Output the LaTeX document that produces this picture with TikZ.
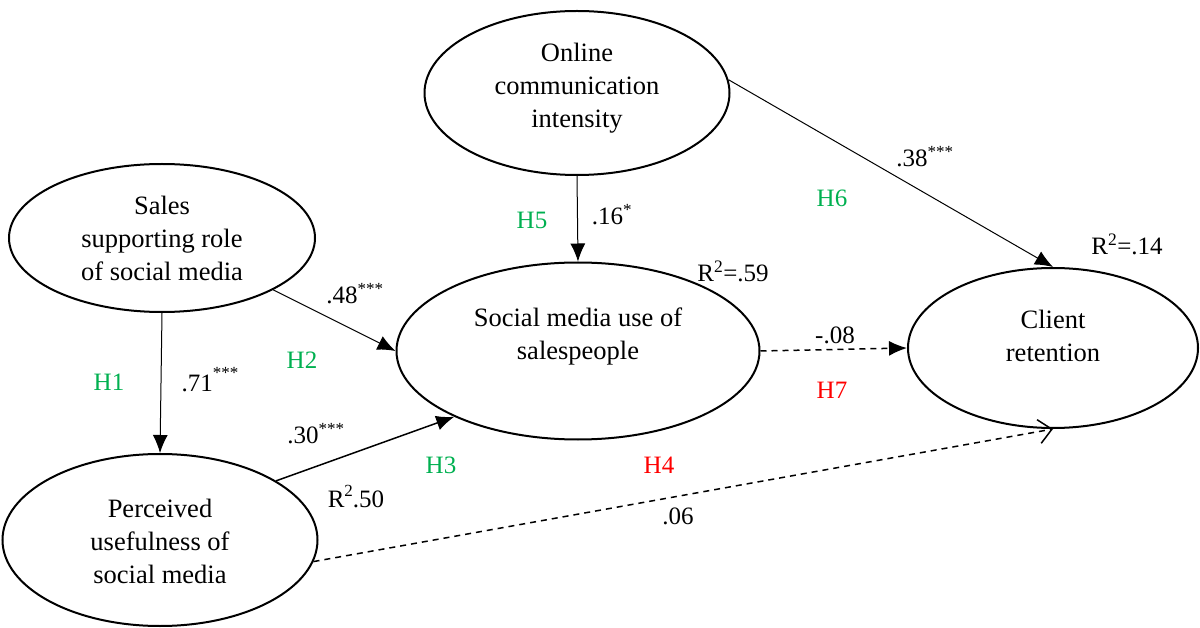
\documentclass[tikz,border=0pt]{standalone}
\usepackage{fontspec}
\setmainfont{Liberation Serif}
\usetikzlibrary{shapes.geometric,arrows.meta}
\definecolor{hgreen}{RGB}{0,176,80}
\definecolor{hred}{RGB}{255,0,0}
\begin{document}
\begin{tikzpicture}[x=1pt,y=-1pt,
  lat/.style={draw,ellipse,line width=2pt,inner sep=0pt},
  txt/.style={align=center,font=\fontsize{26.5}{33}\selectfont,inner sep=0pt},
  lab/.style={font=\fontsize{25}{30}\selectfont,inner sep=0pt},
  hg/.style={lab,text=hgreen},
  hr/.style={lab,text=hred},
  sup/.style={},
  path/.style={line width=1pt,-{Latex[length=18pt,width=15pt]}},
  dpath/.style={line width=1.5pt,dash pattern=on 6pt off 5pt}
]
\newcommand{\stars}[1]{\textsuperscript{\fontsize{17}{17}\selectfont #1}}
\useasboundingbox (0,0) rectangle (1200,628);
% latent variables
\node[lat,minimum width=305pt,minimum height=164pt] (oci) at (577,93) {};
\node[txt] (ocit) at (577,88) {Online\\communication\\intensity};
\node[lat,minimum width=306pt,minimum height=148pt] (ssr) at (162,238) {};
\node[txt] (ssrt) at (162,238) {Sales\\supporting role\\of social media};
\node[lat,minimum width=363pt,minimum height=177pt] (smu) at (578,351) {};
\node[txt] (smut) at (578,336) {Social media use of\\salespeople};
\node[lat,minimum width=290pt,minimum height=160pt] (cr) at (1053,348) {};
\node[txt] (crt) at (1053,336) {Client\\retention};
\node[lat,minimum width=315pt,minimum height=172pt] (pu) at (160,540) {};
\node[txt] (put) at (160,541) {Perceived\\usefulness of\\social media};
% paths
\draw[path] (oci.south) -- (smu.north);
\draw[path] (oci.5) -- (cr.north);
\draw[path] (ssr.-25) -- (smu.west);
\draw[path] (ssr.south) -- (pu.north);
\draw[line width=1.5pt,-{Latex[length=18pt,width=15pt]}] (pu.27) -- (smu.-152);
\draw[dpath,-{Latex[length=18pt,width=15pt]}] (smu.east) -- (cr.west);
\draw[dpath,-{Straight Barb[length=13pt,width=24pt,line width=1.5pt]}] (pu.-8) -- (cr.-90);
% labels
\node[lab] (l16) at (612,215) {.16\stars{*}};
\node[hg] (h5) at (532,220) {H5};
\node[lab] (l38) at (925,157) {.38\stars{***}};
\node[hg] (h6) at (832,198) {H6};
\node[lab] (l48) at (355,294) {.48\stars{***}};
\node[hg] (h2) at (302,360) {H2};
\node[lab] (l71) at (210,380) {.71\raisebox{13pt}{\fontsize{17}{17}\selectfont ***}};
\node[hg] (h1) at (109,382) {H1};
\node[lab] (l30) at (316,434) {.30\stars{***}};
\node[hg] (h3) at (441,465) {H3};
\node[lab] (r50) at (356,497) {R\raisebox{11pt}{\fontsize{17}{17}\selectfont 2}.50};
\node[lab] (l08) at (835,335) {-.08};
\node[hr] (h7) at (832,390) {H7};
\node[hr] (h4) at (659,465) {H4};
\node[lab] (l06) at (678,516) {.06};
\node[lab] (r59) at (733,271) {R\textsuperscript{2}=.59};
\node[lab] (r14) at (1127,244) {R\textsuperscript{2}=.14};
\end{tikzpicture}
\end{document}
